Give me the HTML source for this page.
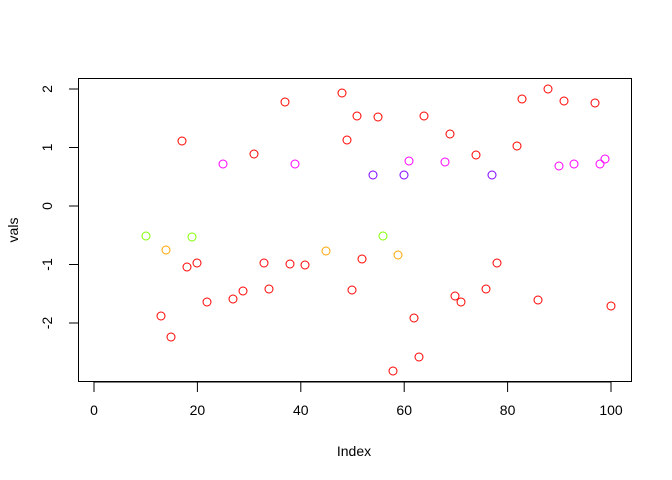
<!DOCTYPE html>
<html><head><style>body{margin:0;background:#fff}svg{display:block}</style></head><body>
<svg width="672" height="480" viewBox="0 0 672 480" font-family="Liberation Sans, Arial, sans-serif" font-size="14">
<rect x="78.5" y="78.5" width="553" height="303" fill="none" stroke="#000" stroke-width="1"/>
<g stroke="#000" stroke-width="1">
<line x1="94" y1="382" x2="611" y2="382"/>
<line x1="94" y1="382" x2="94" y2="392"/><line x1="197.4" y1="382" x2="197.4" y2="392"/><line x1="300.8" y1="382" x2="300.8" y2="392"/><line x1="404.2" y1="382" x2="404.2" y2="392"/><line x1="507.6" y1="382" x2="507.6" y2="392"/><line x1="611" y1="382" x2="611" y2="392"/>
<line x1="78.5" y1="89" x2="78.5" y2="323"/>
<line x1="69" y1="89" x2="78.5" y2="89"/><line x1="69" y1="147.5" x2="78.5" y2="147.5"/><line x1="69" y1="206" x2="78.5" y2="206"/><line x1="69" y1="264.5" x2="78.5" y2="264.5"/><line x1="69" y1="323" x2="78.5" y2="323"/>
</g>
<g text-anchor="middle" fill="#000">
<text x="94" y="415">0</text><text x="197.4" y="415">20</text><text x="300.8" y="415">40</text><text x="404.2" y="415">60</text><text x="507.6" y="415">80</text><text x="611" y="415">100</text>
<text transform="translate(52,89) rotate(-90)">2</text>
<text transform="translate(52,147.5) rotate(-90)">1</text>
<text transform="translate(52,206) rotate(-90)">0</text>
<text transform="translate(52,264.5) rotate(-90)">-1</text>
<text transform="translate(52,323) rotate(-90)">-2</text>
<text x="354" y="456">Index</text>
<text transform="translate(18,230) rotate(-90)">vals</text>
</g>
<g fill="none" stroke-width="1">
<g stroke="#80FF00"><circle cx="146" cy="236" r="4"/><circle cx="192" cy="237" r="4"/><circle cx="383" cy="236" r="4"/></g>
<g stroke="#FFA500"><circle cx="166" cy="250" r="4"/><circle cx="326" cy="251" r="4"/><circle cx="398" cy="255" r="4"/></g>
<g stroke="#8000FF"><circle cx="373" cy="175" r="4"/><circle cx="404" cy="175" r="4"/><circle cx="492" cy="175" r="4"/></g>
<g stroke="#FF00FF"><circle cx="223" cy="164" r="4"/><circle cx="295" cy="164" r="4"/><circle cx="409" cy="161" r="4"/><circle cx="445" cy="162" r="4"/><circle cx="559" cy="166" r="4"/><circle cx="574" cy="164" r="4"/><circle cx="600" cy="164" r="4"/><circle cx="605" cy="159" r="4"/></g>
<g stroke="#FF0000">
<circle cx="161" cy="316" r="4"/><circle cx="171" cy="337" r="4"/><circle cx="182" cy="141" r="4"/><circle cx="187" cy="267" r="4"/><circle cx="197" cy="263" r="4"/><circle cx="207" cy="302" r="4"/><circle cx="233" cy="299" r="4"/><circle cx="243" cy="291" r="4"/><circle cx="254" cy="154" r="4"/><circle cx="264" cy="263" r="4"/><circle cx="269" cy="289" r="4"/><circle cx="285" cy="102" r="4"/><circle cx="290" cy="264" r="4"/><circle cx="305" cy="265" r="4"/><circle cx="342" cy="93" r="4"/><circle cx="347" cy="140" r="4"/><circle cx="352" cy="290" r="4"/><circle cx="357" cy="116" r="4"/><circle cx="362" cy="259" r="4"/><circle cx="378" cy="117" r="4"/><circle cx="393" cy="371" r="4"/><circle cx="414" cy="318" r="4"/><circle cx="419" cy="357" r="4"/><circle cx="424" cy="116" r="4"/><circle cx="450" cy="134" r="4"/><circle cx="455" cy="296" r="4"/><circle cx="461" cy="302" r="4"/><circle cx="476" cy="155" r="4"/><circle cx="486" cy="289" r="4"/><circle cx="497" cy="263" r="4"/><circle cx="517" cy="146" r="4"/><circle cx="522" cy="99" r="4"/><circle cx="538" cy="300" r="4"/><circle cx="548" cy="89" r="4"/><circle cx="564" cy="101" r="4"/><circle cx="595" cy="103" r="4"/><circle cx="611" cy="306" r="4"/>
</g>
</g>
</svg>
</body></html>
